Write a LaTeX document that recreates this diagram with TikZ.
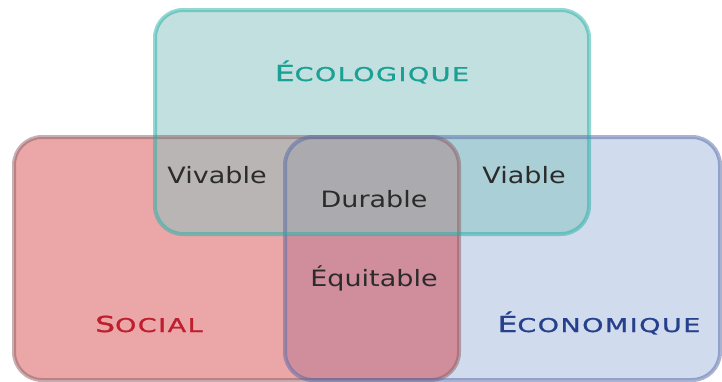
\documentclass[tikz,border=0pt]{standalone}
\usepackage{fontspec}
\setmainfont{DejaVu Sans}
\newfontfamily\lblfont[FakeStretch=1.2]{DejaVu Sans}
\newfontfamily\ttlfont[FakeStretch=1.42,LetterSpace=8,FakeBold=1.3]{DejaVu Sans}
\newcommand\fakesc[2]{{\fontsize{22}{22}\selectfont #1}{\fontsize{19}{19}\selectfont #2}}
\definecolor{redonly}{RGB}{235,166,168}
\definecolor{greenonly}{RGB}{194,224,223}
\definecolor{blueonly}{RGB}{208,219,238}
\definecolor{redgreen}{RGB}{185,181,181}
\definecolor{redblue}{RGB}{208,142,156}
\definecolor{greenblue}{RGB}{170,207,214}
\definecolor{allthree}{RGB}{171,170,175}
\definecolor{redline}{RGB}{140,95,100}
\definecolor{greenline}{RGB}{35,175,166}
\definecolor{blueline}{RGB}{85,105,165}
\definecolor{ecotxt}{RGB}{27,160,148}
\definecolor{soctxt}{RGB}{190,30,45}
\definecolor{econtxt}{RGB}{38,64,140}
\definecolor{lbltxt}{RGB}{43,43,43}
\tikzset{
  rr/.style={rounded corners=28pt},
  border/.style={rr, line width=4pt, draw opacity=0.5},
  title/.style={anchor=base, font=\ttlfont},
  lbl/.style={anchor=base, text=lbltxt, font=\lblfont\fontsize{22.5}{22.5}\selectfont, inner sep=0pt},
}
\begin{document}
\begin{tikzpicture}[x=1pt,y=-1pt]
\useasboundingbox (0,0) rectangle (722,381);
% base fills
\fill[rr, redonly] (14,137) rectangle (459,380);
\fill[rr, blueonly] (285,137) rectangle (720,380);
\fill[rr, greenonly] (155,10) rectangle (589,234);
% pairwise overlaps
\begin{scope}
  \clip[rr] (14,137) rectangle (459,380);
  \fill[rr, redblue] (285,137) rectangle (720,380);
  \fill[rr, redgreen] (155,10) rectangle (589,234);
\end{scope}
\begin{scope}
  \clip[rr] (285,137) rectangle (720,380);
  \fill[rr, greenblue] (155,10) rectangle (589,234);
\end{scope}
\begin{scope}
  \clip[rr] (14,137) rectangle (459,380);
  \clip[rr] (285,137) rectangle (720,380);
  \fill[rr, allthree] (155,10) rectangle (589,234);
\end{scope}
% borders
\draw[border, redline] (14,137) rectangle (459,380);
\draw[border, blueline] (285,137) rectangle (720,380);
\draw[border, greenline] (155,10) rectangle (589,234);
% titles
\node[title, text=ecotxt] (eco) at (372,81) {\fakesc{É}{COLOGIQUE}};
\node[title, text=soctxt] (soc) at (149,332) {\fakesc{S}{OCIAL}};
\node[title, text=econtxt] (econ) at (599,332) {\fakesc{É}{CONOMIQUE}};
% labels
\node[lbl] (viv) at (217,183) {Vivable};
\node[lbl] (via) at (524,183) {Viable};
\node[lbl] (dur) at (374,207) {Durable};
\node[lbl] (equ) at (374,286) {Équitable};
\end{tikzpicture}
\end{document}
